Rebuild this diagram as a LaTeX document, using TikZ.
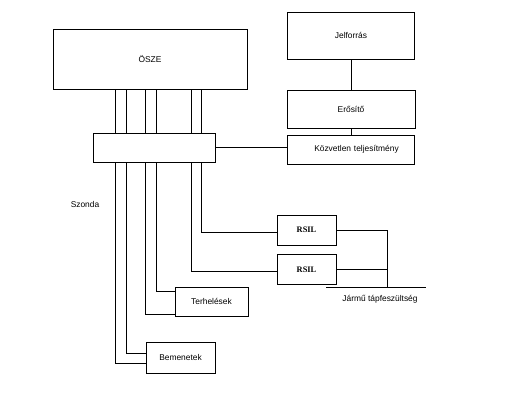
\documentclass[tikz,border=0pt]{standalone}
\usepackage{fontspec}
\setmainfont{Liberation Sans}
\newfontfamily\rsilfont{Liberation Serif}
\begin{document}
\begin{tikzpicture}[x=1pt,y=-1pt,line width=0.8pt,
  box/.style={draw,inner sep=0pt,font=\fontsize{8.4}{10}\selectfont},
  lbl/.style={inner sep=0pt,font=\fontsize{8.4}{10}\selectfont},
  rsilbox/.style={draw,inner sep=0pt,minimum width=59pt,minimum height=30pt,font=\rsilfont\bfseries\fontsize{8.4}{10}\selectfont}]
\useasboundingbox (0,0) rectangle (517,403);
% boxes
\node[box,minimum width=194pt,minimum height=60pt] (osze) at (150,59) {ÖSZE};
\node[box,minimum width=122pt,minimum height=29pt] (probe) at (154,147.5) {};
\node[box,minimum width=127pt,minimum height=47pt] (jel) at (351,35.5) {Jelforrás};
\node[box,minimum width=128pt,minimum height=38pt] (ero) at (351,109) {Erősítő};
\node[box,minimum width=127pt,minimum height=29pt,text width=127pt,align=center] (kozv) at (351,149.5) {\hspace*{11pt}Közvetlen teljesítmény};
\node[rsilbox] (rsil1) at (306.5,230) {RSIL};
\node[rsilbox] (rsil2) at (306.5,269.5) {RSIL};
\node[box,minimum width=73pt,minimum height=29pt] (terh) at (211.5,301.5) {Terhelések};
\node[box,minimum width=69pt,minimum height=31pt] (bem) at (180.5,357.5) {Bemenetek};
\node[lbl] (szonda) at (85,204) {Szonda};
% x positions of the probe lines
\coordinate (x1) at (115,0);
\coordinate (x2) at (126,0);
\coordinate (x3) at (145.5,0);
\coordinate (x4) at (156,0);
\coordinate (x5) at (191,0);
\coordinate (x6) at (201.5,0);
% turning levels
\coordinate (y1) at (0,363);
\coordinate (y2) at (0,353);
\coordinate (y3) at (0,314);
\coordinate (y4) at (0,291);
\coordinate (y5) at (0,271);
\coordinate (y6) at (0,232);
% OSZE to probe
\foreach \c in {x1,x2,x3,x4,x5,x6}
  \draw (osze.south -| \c) -- (probe.north -| \c);
% probe to targets
\draw (probe.south -| x1) |- (bem.west |- y1);
\draw (probe.south -| x2) |- (bem.west |- y2);
\draw (probe.south -| x3) |- (terh.west |- y3);
\draw (probe.south -| x4) |- (terh.west |- y4);
\draw (probe.south -| x5) |- (rsil2.west |- y5);
\draw (probe.south -| x6) |- (rsil1.west |- y6);
% right chain
\draw (probe.east) -- (probe.east -| kozv.west);
\draw (jel.south) -- (ero.north);
\draw (ero.south) -- (kozv.north);
% supply
\coordinate (bus) at (387,287);
\coordinate (ja) at (326,287);
\coordinate (jb) at (426,287);
\draw (rsil1.east) -| (bus);
\draw (rsil2.east) -- (rsil2.east -| bus);
\draw (ja) -- (jb);
\node[lbl] (jarmu) at (380,299.5) {Jármű tápfeszültség};
\end{tikzpicture}
\end{document}
